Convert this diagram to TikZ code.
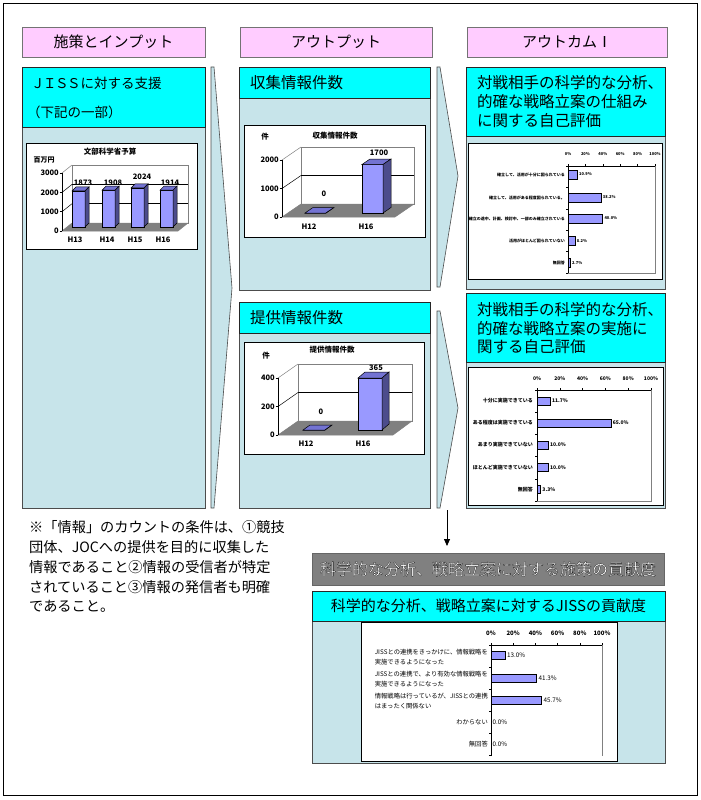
\documentclass[tikz,border=0pt]{standalone}
\usepackage{fontspec}
\setmainfont{Noto Sans CJK JP}
\usetikzlibrary{arrows.meta}
\definecolor{pinkbox}{RGB}{255,204,255}
\definecolor{cyanbox}{RGB}{0,255,255}
\definecolor{lblue}{RGB}{199,228,234}
\definecolor{barfront}{RGB}{153,153,255}
\definecolor{bartop}{RGB}{115,115,210}
\definecolor{barside}{RGB}{76,76,140}
\definecolor{floorgray}{RGB}{128,128,128}
\definecolor{greybox}{RGB}{128,128,128}
\newcommand\cbar[6]{%
  \filldraw[fill=barfront, draw=black, line width=0.5pt] (#1,#2) rectangle ++(#3,-#4);
  \filldraw[fill=bartop, draw=black, line width=0.5pt] (#1,#2-#4) -- ++(#5,-#6) -- ++(#3,0) -- ++(-#5,#6) -- cycle;
  \filldraw[fill=barside, draw=black, line width=0.5pt] (#1+#3,#2) -- ++(#5,-#6) -- ++(0,-#4) -- ++(-#5,#6) -- cycle;
}
\newcommand\hbr[4]{%
  \filldraw[fill=barfront, draw=black, line width=0.7pt] (#1,#2-#4/2) rectangle ++(#3,#4);
}
\tikzset{
  panel/.style={anchor=north west, inner sep=0pt, outer sep=0pt, line width=0.8pt},
  hdr/.style={panel, fill=pinkbox, draw=black!55, font=\fontsize{15}{15}\selectfont},
  ttl/.style={panel, fill=cyanbox, draw=black!85},
  body/.style={panel, fill=lblue, draw=black!70},
  wbox/.style={draw=black, fill=white, anchor=north west, inner sep=0pt, line width=0.8pt},
  ttext/.style={font=\fontsize{15.5}{16}\selectfont, inner sep=0pt, anchor=west},
  ltext/.style={font=\fontsize{13.5}{14}\selectfont, inner sep=0pt, anchor=west},
  ctext/.style={font=\bfseries\fontsize{7.5}{8}\selectfont, inner sep=0pt},
  rtlab/.style={font=\bfseries\fontsize{4}{4.5}\selectfont, inner sep=0pt},
  rblab/.style={font=\bfseries\fontsize{5}{6}\selectfont, inner sep=0pt},
  bclab/.style={font=\fontsize{6.3}{9.5}\selectfont, inner sep=0pt},
  foot/.style={font=\fontsize{14.2}{15}\selectfont, inner sep=0pt, anchor=west},
  chev/.style={fill=lblue, draw=black!70, line width=0.6pt},
}
\begin{document}
\begin{tikzpicture}[x=1pt,y=-1pt]
\useasboundingbox (0,0) rectangle (701,800);
\fill[white] (0,0) rectangle (701,800);
\draw[line width=1pt] (3.5,3.5) rectangle (697,795.5);

% headers
\node[hdr, minimum width=183pt, minimum height=30pt] (h1) at (22,27) {施策とインプット};
\node[hdr, minimum width=192pt, minimum height=30pt] (h2) at (240,27) {アウトプット};
\node[hdr, minimum width=200pt, minimum height=30pt] (h3) at (467,27) {アウトカムⅠ};

% left column
\node[body, minimum width=183pt, minimum height=381pt] (lbody) at (22,127) {};
\node[ttl, minimum width=183pt, minimum height=60pt] (ltitle) at (22,67) {};
\node[ltext] (lt1) at (31,83) {Ｊ\kern-1.5ptＩ\kern-1.5ptＳ\kern-1.5ptＳに対する支援};
\node[ltext] (lt2) at (27,112) {（下記の一部）};

% chevrons
\draw[chev] (211,67) -- (214,67) -- (232,288) -- (214,508) -- (211,508) -- cycle;
\draw[chev] (437,67) -- (440,67) -- (458,176) -- (440,287) -- (437,287) -- cycle;
\draw[chev] (437,311) -- (440,311) -- (458,408) -- (440,508) -- (437,508) -- cycle;

% middle column
\node[body, minimum width=191pt, minimum height=192pt] (mtbody) at (239,98) {};
\node[ttl, minimum width=191pt, minimum height=31pt] (mttitle) at (239,67) {};
\node[ttext] (mtt) at (250,83) {収集情報件数};
\node[body, minimum width=191pt, minimum height=175pt] (mbbody) at (239,333) {};
\node[ttl, minimum width=191pt, minimum height=31pt] (mbtitle) at (239,302) {};
\node[ttext] (mbt) at (250,318) {提供情報件数};

% right column
\node[body, minimum width=199pt, minimum height=153pt] (rtbody) at (466,136) {};
\node[ttl, minimum width=199pt, minimum height=69pt] (rttitle) at (466,67) {};
\node[ttext] (rtt1) at (477,83) {対戦相手の科学的な分析、};
\node[ttext] (rtt2) at (477,102) {的確な戦略立案の仕組み};
\node[ttext] (rtt3) at (477,121) {に関する自己評価};
\node[body, minimum width=199pt, minimum height=146pt] (rbbody) at (466,362) {};
\node[ttl, minimum width=199pt, minimum height=69pt] (rbtitle) at (466,293) {};
\node[ttext] (rbt1) at (477,310) {対戦相手の科学的な分析、};
\node[ttext] (rbt2) at (477,329) {的確な戦略立案の実施に};
\node[ttext] (rbt3) at (477,347) {関する自己評価};

% bottom
\node[panel, fill=greybox, draw=black!60, minimum width=352pt, minimum height=32pt] (gbox) at (312,553) {};
\node[font=\fontsize{16}{16}\selectfont, inner sep=0pt] (gboxt) at (gbox.center) {\color{white}\special{pdf:literal direct 0.1 G 0.28 w 2 Tr}科学的な分析、戦略立案に対する施策の貢献度\special{pdf:literal direct 0 Tr}};
\node[body, minimum width=353pt, minimum height=142pt] (bcbody) at (312,621) {};
\node[ttl, minimum width=353pt, minimum height=30pt, font=\fontsize{15}{15}\selectfont] (bctitle) at (312,591) {科学的な分析、戦略立案に対するJISSの貢献度};

% arrow
\coordinate (arrtop) at (447,510);
\draw[line width=0.8pt, -{Triangle[length=7pt,width=6pt]}, shorten >=7pt] (arrtop) -- (arrtop |- gbox.north);

% footnote
\node[foot] (f1) at (29,527) {※「情報」のカウントの条件は、①競技};
\node[foot] (f2) at (29,547) {団体、JOCへの提供を目的に収集した};
\node[foot] (f3) at (29,567) {情報であること②情報の受信者が特定};
\node[foot] (f4) at (29,587) {されていること③情報の発信者も明確};
\node[foot] (f5) at (29,606) {であること。};

% ===== left chart =====
\node[wbox, minimum width=171pt, minimum height=106pt] (lchart) at (26,143) {};
\node[ctext] (lct) at (110,152) {文部科学省予算};
\node[ctext, font=\bfseries\fontsize{7}{7}\selectfont] (lcu) at (44,160) {百万円};
\draw[gray, line width=0.5pt] (72,165) rectangle (188,223);
\draw[line width=0.6pt] (72,184.4) -- (188,184.4);
\draw[line width=0.6pt] (72,203.7) -- (188,203.7);
\draw[gray, line width=0.5pt] (62,173) -- (72,165);
\draw[line width=0.5pt] (62,192.4) -- (72,184.4);
\draw[line width=0.5pt] (62,211.7) -- (72,203.7);
\filldraw[fill=floorgray, draw=gray, line width=0.5pt] (62,231) -- (178,231) -- (188,223) -- (72,223) -- cycle;
\draw[line width=0.6pt] (62,173) -- (62,231);
\foreach \k/\t in {0/0,1/1000,2/2000,3/3000} {
  \draw[line width=0.5pt] (59.5,231-\k*19.3) -- (62,231-\k*19.3);
  \node[ctext, anchor=east] (lcy\k) at (59,231-\k*19.3) {\t};
}
\cbar{72}{227}{13}{36.1}{4}{4}
\cbar{102}{227}{13}{36.8}{4}{4}
\cbar{131}{227}{13}{39.1}{4}{4}
\cbar{160}{227}{13}{36.9}{4}{4}
\node[ctext] (lcv1) at (83,183) {1873};
\node[ctext] (lcv2) at (113,183) {1908};
\node[ctext] (lcv3) at (142,177) {2024};
\node[ctext] (lcv4) at (170,183) {1914};
\node[ctext] (lcx1) at (75,240) {H13};
\node[ctext] (lcx2) at (107,240) {H14};
\node[ctext] (lcx3) at (135,240) {H15};
\node[ctext] (lcx4) at (163,240) {H16};

% ===== middle top chart =====
\node[wbox, minimum width=181pt, minimum height=112pt] (mtchart) at (244,125) {};
\node[ctext] (mtu) at (265,137) {件};
\node[ctext] (mtct) at (335,136) {収集情報件数};
\draw[gray, line width=0.5pt] (301,147) rectangle (414,204);
\draw[line width=0.6pt] (301,175.5) -- (414,175.5);
\draw[gray, line width=0.5pt] (282,160) -- (301,147);
\draw[line width=0.5pt] (282,188.5) -- (301,175.5);
\filldraw[fill=floorgray, draw=gray, line width=0.5pt] (282,217) -- (395,217) -- (414,204) -- (301,204) -- cycle;
\draw[line width=0.6pt] (282,160) -- (282,217);
\foreach \k/\t in {0/0,1/1000,2/2000} {
  \draw[line width=0.5pt] (279.5,217-\k*28.5) -- (282,217-\k*28.5);
  \node[ctext, anchor=east] (mty\k) at (279,217-\k*28.5) {\t};
}
\cbar{305}{213}{21}{0}{8}{5.5}
\cbar{362}{213}{21}{48.5}{8}{5.5}
\node[ctext] (mtv1) at (324,194) {0};
\node[ctext] (mtv2) at (379,153) {1700};
\node[ctext] (mtx1) at (309,227) {H12};
\node[ctext] (mtx2) at (366,227) {H16};

% ===== middle bottom chart =====
\node[wbox, minimum width=180pt, minimum height=112pt] (mbchart) at (244,342) {};
\node[ctext] (mbu) at (266,356) {件};
\node[ctext] (mbct) at (332,350) {提供情報件数};
\draw[gray, line width=0.5pt] (298,364) rectangle (412,421);
\draw[line width=0.6pt] (298,392.5) -- (412,392.5);
\draw[gray, line width=0.5pt] (278,378) -- (298,364);
\draw[line width=0.5pt] (278,406.5) -- (298,392.5);
\filldraw[fill=floorgray, draw=gray, line width=0.5pt] (278,435) -- (393,435) -- (412,421) -- (298,421) -- cycle;
\draw[line width=0.6pt] (278,378) -- (278,435);
\foreach \k/\t in {0/0,1/200,2/400} {
  \draw[line width=0.5pt] (275.5,435-\k*28.5) -- (278,435-\k*28.5);
  \node[ctext, anchor=east] (mby\k) at (275,435-\k*28.5) {\t};
}
\cbar{303}{430}{22}{0}{7}{5}
\cbar{358}{430}{24}{52}{7}{6}
\node[ctext] (mbv1) at (321,412) {0};
\node[ctext] (mbv2) at (376,368) {365};
\node[ctext] (mbx1) at (306,444) {H12};
\node[ctext] (mbx2) at (363,444) {H16};

% ===== right top chart =====
\node[wbox, minimum width=194pt, minimum height=136pt] (rtchart) at (468,143) {};
\draw[gray, line width=0.5pt] (655,166) -- (655,273) -- (568,273);
\draw[line width=0.7pt] (568,273) -- (568,166) -- (655,166);
\foreach \k/\t in {0/0\%,1/20\%,2/40\%,3/60\%,4/80\%,5/100\%} {
  \draw[line width=0.5pt] (568+17.4*\k,166) -- ++(0,-2.5);
  \node[rtlab] (rtx\k) at (568+17.4*\k,154) {\t};
}
\foreach \k in {0,...,5} \draw[line width=0.5pt] (568,166+21.4*\k) -- ++(-2,0);
\foreach \yc/\val/\lab [count=\idx] in {174.5/10.9/{確立して、活用が十分に図られている},197.5/38.2/{確立して、活用がある程度図られている。},218.5/40.0/{確立の途中、計画、検討中、一部のみ確立されている},241/8.2/{活用がほとんど図られていない},263/2.7/{無回答}} {
  \hbr{568}{\yc}{\val*0.87}{9}
  \node[rtlab, anchor=west] (rtv\idx) at (568+\val*0.87+1.5,\yc) {\val\%};
  \node[rtlab, anchor=east] (rtc\idx) at (565,\yc) {\lab};
}

% ===== right bottom chart =====
\node[wbox, minimum width=195pt, minimum height=138pt] (rbchart) at (468,367) {};
\draw[gray, line width=0.5pt] (651,390) -- (651,501) -- (537,501);
\draw[line width=0.7pt] (537,501) -- (537,390) -- (651,390);
\foreach \k/\t in {0/0\%,1/20\%,2/40\%,3/60\%,4/80\%,5/100\%} {
  \draw[line width=0.5pt] (537+22.8*\k,390) -- ++(0,-2.5);
  \node[rblab] (rbx\k) at (537+22.8*\k,379) {\t};
}
\foreach \k in {0,...,5} \draw[line width=0.5pt] (537,390+22.2*\k) -- ++(-2,0);
\foreach \yc/\val/\lab [count=\idx] in {401/11.7/{十分に実施できている},423/65.0/{ある程度は実施できている},445/10.0/{あまり実施できていない},467.5/10.0/{ほとんど実施できていない},489.5/3.3/{無回答}} {
  \hbr{537}{\yc}{\val*1.14}{8}
  \node[rblab, anchor=west] (rbv\idx) at (537+\val*1.14+1.5,\yc) {\val\%};
  \node[rblab, anchor=east] (rbc\idx) at (533,\yc) {\lab};
}

% ===== bottom chart =====
\node[wbox, minimum width=256pt, minimum height=139pt] (bcchart) at (361,622) {};
\draw[gray, line width=0.5pt] (602,645) -- (602,756);
\draw[line width=0.7pt] (491,756) -- (491,645) -- (602,645);
\foreach \k/\t in {0/0\%,1/20\%,2/40\%,3/60\%,4/80\%,5/100\%} {
  \draw[line width=0.5pt] (491+22.2*\k,645) -- ++(0,-2.5);
  \node[bclab, font=\bfseries\fontsize{6}{6}\selectfont] (bcx\k) at (491+22.2*\k,633) {\t};
}
\foreach \k in {0,...,5} \draw[line width=0.5pt] (491,645+22*\k) -- ++(-2,0);
\hbr{491}{655.5}{14.4}{8}
\hbr{491}{678}{45.8}{8}
\hbr{491}{700}{50.7}{8}
\node[bclab, anchor=west] (bcv1) at (507,655.5) {13.0\%};
\node[bclab, anchor=west] (bcv2) at (538.5,678) {41.3\%};
\node[bclab, anchor=west] (bcv3) at (543.5,700) {45.7\%};
\node[bclab, anchor=west] (bcv4) at (492.5,722) {0.0\%};
\node[bclab, anchor=west] (bcv5) at (492.5,744) {0.0\%};
\node[bclab, anchor=east, align=left] (bcc1) at (488,657) {JISSとの連携をきっかけに、情報戦略を\\実施できるようになった};
\node[bclab, anchor=east, align=left] (bcc2) at (488,679) {JISSとの連携で、より有効な情報戦略を\\実施できるようになった};
\node[bclab, anchor=east, align=left] (bcc3) at (488,701) {情報戦略は行っているが、JISSとの連携\\はまったく関係ない};
\node[bclab, anchor=east] (bcc4) at (488,722) {わからない};
\node[bclab, anchor=east] (bcc5) at (488,744) {無回答};
\end{tikzpicture}
\end{document}
